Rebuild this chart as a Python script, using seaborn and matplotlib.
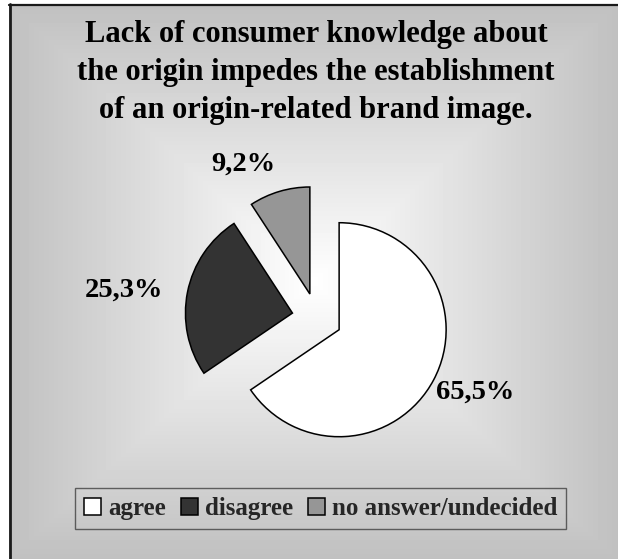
import numpy as np
import matplotlib
matplotlib.use("Agg")
import matplotlib.pyplot as plt
from matplotlib.lines import Line2D
import seaborn as sns

# Survey answers (share of respondents, %)
CATEGORIES = ["agree", "disagree", "no answer/undecided"]
SHARES = [65.5, 25.3, 9.2]
COLORS = ["#ffffff", "#333333", "#969696"]
TITLE_LINES = [
    "Lack of consumer knowledge about",
    "the origin impedes the establishment",
    "of an origin-related brand image.",
]

sns.set_theme(style="white")
plt.rcParams["font.family"] = ["Liberation Serif", "DejaVu Serif"]

W, H = 618, 559
fig = plt.figure(figsize=(W / 100, H / 100), dpi=100)
fig.patch.set_facecolor("white")

# Rectangular "from centre" grey gradient behind the chart
ax_bg = fig.add_axes([0, 0, 1, 1])
x0, y0 = 9, 4                      # frame origin (px from left/top)
cx, cy = (x0 + W) / 2, (y0 + H) / 2
hx, hy = (W - x0) / 2, (H - y0) / 2
xx, yy = np.meshgrid(np.arange(W) + 0.5, np.arange(H) + 0.5)
t = np.maximum(np.abs(xx - cx) / hx, np.abs(yy - cy) / hy)
grad = (192 + 63 * (1 - np.clip(t, 0, 1))) / 255.0
grad[:, :x0] = 1.0
grad[:y0, :] = 1.0
ax_bg.imshow(grad, cmap="gray", vmin=0, vmax=1, extent=(0, W, H, 0),
             aspect="auto", interpolation="bilinear")
ax_bg.set_xlim(0, W)
ax_bg.set_ylim(H, 0)
ax_bg.axis("off")
ax_bg.add_line(Line2D([x0, W], [y0 + 0.5, y0 + 0.5], color="#1a1a1a", lw=1.6))
ax_bg.add_line(Line2D([x0 + 0.5, x0 + 0.5], [y0, H], color="#1a1a1a", lw=2.0))

# Title, three centred lines
for line, base in zip(TITLE_LINES, [42, 80, 118]):
    fig.text(316 / W, 1 - base / H, line, ha="center", va="baseline",
             fontsize=22, fontweight="bold", color="black")

# Exploded pie
R_PX = 107
BOX = 300
pcx, pcy = 317, 318
ax = fig.add_axes([(pcx - BOX / 2) / W, (H - pcy - BOX / 2) / H, BOX / W, BOX / H])
wedges, _ = ax.pie(SHARES, colors=COLORS, startangle=90, counterclock=False,
                   explode=[0.234] * len(SHARES), radius=1,
                   wedgeprops=dict(edgecolor="black", linewidth=1.1))
lim = BOX / 2 / R_PX
ax.set_xlim(-lim, lim)
ax.set_ylim(-lim, lim)
ax.set_aspect("equal")
ax.axis("off")

LABEL_POS = [(1.48, -0.69), (-1.80, 0.26), (-0.69, 1.44)]
for val, (lx, ly) in zip(SHARES, LABEL_POS):
    ax.text(lx, ly, f"{val:.1f}%".replace(".", ","), ha="center", va="center",
            fontsize=20.5, fontweight="bold", color="black")

leg = ax.legend(wedges, CATEGORIES, loc="center",
                bbox_to_anchor=(320.5 / W, 1 - 508.5 / H),
                bbox_transform=fig.transFigure, ncol=3, frameon=True,
                fancybox=False, prop=dict(family="Liberation Serif", weight="bold", size=18),
                handlelength=0.68, handleheight=0.68, handletextpad=0.28,
                columnspacing=0.6, borderpad=0.36, borderaxespad=0)
frame = leg.get_frame()
frame.set_facecolor("none")
frame.set_edgecolor("#404040")
frame.set_linewidth(1.0)

fig.savefig("out.png", dpi=100)
